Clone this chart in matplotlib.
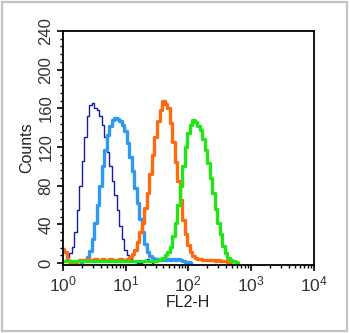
import numpy as np
import matplotlib
matplotlib.use('Agg')
import matplotlib.pyplot as plt
from matplotlib.ticker import MultipleLocator, LogLocator, NullFormatter
from matplotlib.patches import Rectangle

plt.rcParams['font.family'] = ['Liberation Sans', 'DejaVu Sans']
plt.rcParams['mathtext.default'] = 'regular'

# histogram channels: bin width 0.04 decade, first bin position in log10 units
bin_width = 0.04

navy_start = 0.04
navy_counts = [3, 6, 10, 17, 32, 55, 80, 106, 130, 152, 163, 166, 160, 158, 152, 143,
               130, 115, 100, 85, 70, 55, 38, 25, 14, 8, 4, 2, 1, 0, 0, 1, 3, 4, 2, 0]

lightblue_start = 0.28
lightblue_counts = [1, 2, 3, 6, 13, 25, 42, 60, 80, 100, 117, 132, 142, 148, 150, 149,
                    147, 143, 137, 124, 110, 95, 78, 62, 46, 32, 20, 11, 7, 5, 4, 4,
                    3, 4, 3, 4, 3, 4, 3, 4, 3, 2, 1, 1, 0]

orange_start = 0.0
orange_counts = [15, 12, 3, 1, 1, 1, 2, 3, 3, 3, 4, 3, 3, 4, 3, 3, 4, 3, 3, 4, 3, 3, 3, 4, 3, 3,
                 4, 6, 9, 14, 22, 32, 42, 57, 73, 92, 112, 130, 147, 158, 168, 165, 160,
                 145, 125, 105, 85, 65, 45, 30, 19, 12, 7, 5, 4, 4, 3, 3, 3, 3, 3, 2,
                 3, 2, 2, 2, 1, 0]

green_start = 0.0
green_counts = [2] * 38 + [3, 4, 5, 8, 12, 17, 28, 42, 60, 80, 100, 120, 135, 143, 148,
                           146, 142, 138, 128, 117, 103, 88, 72, 56, 42, 30, 18, 10, 5,
                           3, 2, 1, 0]

y_ticks = [0, 40, 80, 120, 160, 200, 240]
x_ticks = [1, 10, 100, 1000, 10000]
x_labels = ['$10^0$', '$10^1$', '$10^2$', '$10^3$', '$10^4$']

series = [
    (navy_start, navy_counts, '#1a1aa8', 1.0),
    (lightblue_start, lightblue_counts, '#2f98f0', 2.4),
    (orange_start, orange_counts, '#ff6a10', 2.4),
    (green_start, green_counts, '#22e614', 2.4),
]

fig = plt.figure(figsize=(3.5, 3.33), dpi=100)
fig.patches.append(Rectangle((0.006, 0.006), 0.986, 0.988, transform=fig.transFigure,
                             fill=False, edgecolor='#c4c4c4', linewidth=1.6))
ax = fig.add_axes([0.18, 0.204, 0.716, 0.703])

for start, counts, color, lw in series:
    counts = np.array(counts, dtype=float)
    u = start + bin_width * np.arange(len(counts))
    ax.step(10 ** u, counts, where='mid', color=color, linewidth=lw)

ax.set_xscale('log')
ax.set_xlim(1, 10000)
ax.set_ylim(-2, 240)
ax.set_xticks(x_ticks)
ax.set_xticklabels(x_labels, fontsize=12.5)
ax.xaxis.set_minor_locator(LogLocator(base=10, subs=np.arange(2, 10)))
ax.xaxis.set_minor_formatter(NullFormatter())
ax.set_yticks(y_ticks)
ax.set_yticklabels([str(t) for t in y_ticks], fontsize=12, rotation=90, va='center')
ax.yaxis.set_minor_locator(MultipleLocator(8))

ax.tick_params(which='major', direction='out', length=4, width=1.2, color='black', pad=3)
ax.tick_params(which='minor', direction='out', length=2.5, width=1.0, color='black')
ax.tick_params(axis='both', labelcolor='#333333')
for s in ax.spines.values():
    s.set_linewidth(1.3)

ax.set_xlabel('FL2-H', fontsize=11.5, labelpad=0, color='#222222')
ax.set_ylabel('Counts', fontsize=11.5, labelpad=3, color='#222222')

fig.savefig('out.png', dpi=100)
